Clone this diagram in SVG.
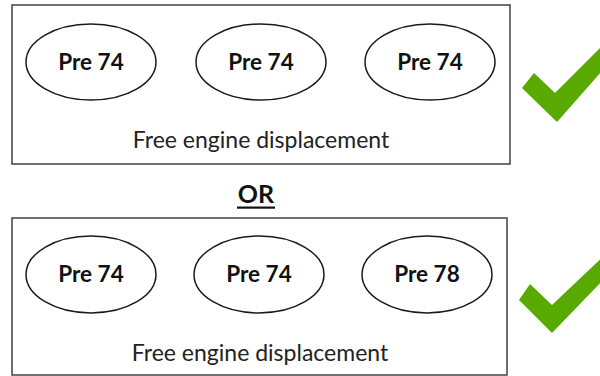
<svg xmlns="http://www.w3.org/2000/svg" width="600" height="376" viewBox="0 0 600 376">
<style>
.box{fill:#fff;stroke:#404040;stroke-width:1.5}
.ell{fill:#fff;stroke:#1a1a1a;stroke-width:1.5}
.lbl{font-family:Lato,"Liberation Sans",sans-serif;font-weight:bold;font-size:22.5px;fill:#111;text-anchor:middle}
.cap{font-family:Lato,"Liberation Sans",sans-serif;font-size:23px;fill:#222;text-anchor:middle}
.or{font-family:Lato,"Open Sans",sans-serif;font-weight:bold;font-size:25px;fill:#111;text-anchor:middle}
.chk{fill:#58aa00}
</style>
<rect width="600" height="376" fill="#fff"/>
<g id="option1">
  <rect class="box" x="12" y="5" width="498" height="159"/>
  <g id="o1-n1"><ellipse class="ell" cx="91" cy="62" rx="65" ry="38"/><text class="lbl" x="91" y="70">Pre 74</text></g>
  <g id="o1-n2"><ellipse class="ell" cx="261" cy="62" rx="65" ry="38"/><text class="lbl" x="261" y="70">Pre 74</text></g>
  <g id="o1-n3"><ellipse class="ell" cx="430" cy="62" rx="65" ry="38"/><text class="lbl" x="430" y="70">Pre 74</text></g>
  <text class="cap" x="261" y="148">Free engine displacement</text>
</g>
<g id="or">
  <text class="or" x="256" y="203">OR</text>
  <rect x="237" y="206.5" width="38" height="2.2" fill="#111"/>
</g>
<g id="option2">
  <rect class="box" x="12" y="218" width="495" height="157"/>
  <g id="o2-n1"><ellipse class="ell" cx="91" cy="274.5" rx="65" ry="38.5"/><text class="lbl" x="91" y="282">Pre 74</text></g>
  <g id="o2-n2"><ellipse class="ell" cx="259" cy="274.5" rx="65" ry="38.5"/><text class="lbl" x="259" y="282">Pre 74</text></g>
  <g id="o2-n3"><ellipse class="ell" cx="427" cy="274.5" rx="65" ry="38.5"/><text class="lbl" x="427" y="282">Pre 78</text></g>
  <text class="cap" x="260" y="361">Free engine displacement</text>
</g>
<g id="check1">
  <polygon class="chk" points="522,88 534,73 555,93 610,38 610,62 557,122"/>
</g>
<g id="check2">
  <polygon class="chk" points="519,300 530,284 552,305 610,250 610,273 552,333"/>
</g>
</svg>
